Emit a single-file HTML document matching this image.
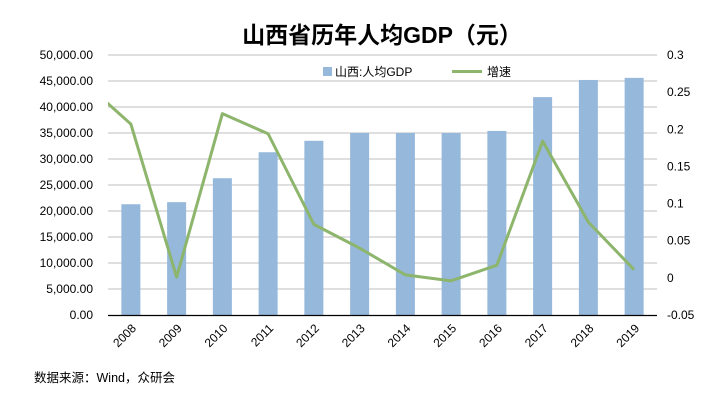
<!DOCTYPE html>
<html><head><meta charset="utf-8"><style>
body{margin:0;background:#fff;}
svg text{font-family:"Liberation Sans","Noto Sans CJK SC",sans-serif;}
</style></head><body>
<svg width="724" height="400" viewBox="0 0 724 400">
<text x="382" y="43" text-anchor="middle" font-size="23" font-weight="bold" fill="#000">山西省历年人均GDP（元）</text>
<g id="grid"></g><g id="bars"></g><g id="line"></g><g id="axes"></g>
<g>
<rect x="323" y="67" width="9" height="9" fill="#95b8db"/>
<text x="335" y="76" font-size="12" fill="#000">山西:人均GDP</text>
<line x1="452" y1="71.5" x2="482" y2="71.5" stroke="#8db56c" stroke-width="3"/>
<text x="487" y="76" font-size="12" fill="#000">增速</text>
</g>
<text x="34" y="382" font-size="12.5" fill="#000">数据来源：Wind，众研会</text>
<defs><clipPath id="pc"><rect x="108" y="40" width="549" height="290"/></clipPath></defs>
</svg>
<script>
const categories=["2008","2009","2010","2011","2012","2013","2014","2015","2016","2017","2018","2019"];
const gdpValues=[21300,21700,26300,31300,33500,35000,35000,35000,35400,41900,45200,45600];
const growthValues=[0.207,0.001,0.221,0.194,0.072,0.040,0.004,-0.004,0.017,0.184,0.075,0.011];
const prevGrowth=0.262;
const leftTicks=[0,5000,10000,15000,20000,25000,30000,35000,40000,45000,50000];
const rightTicks=[-0.05,0,0.05,0.1,0.15,0.2,0.25,0.3];
const NS="http://www.w3.org/2000/svg";
const L=108,R=657,T=55,B=315;
const step=(R-L)/categories.length;
const xC=i=>L+step*(i+0.5);
const yL=v=>B-(v/50000)*(B-T);
const yR=v=>B-((v+0.05)/0.35)*(B-T);
function mk(tag,attrs,parent){const e=document.createElementNS(NS,tag);for(const k in attrs)e.setAttribute(k,attrs[k]);document.getElementById(parent).appendChild(e);return e;}
leftTicks.forEach(v=>{
  if(v>0){const g=mk('line',{x1:L,x2:R,y1:yL(v),y2:yL(v),stroke:'#bfbfbf','stroke-width':1},'grid');
  
  }
  const t=mk('text',{x:93,y:yL(v)+4,'text-anchor':'end','font-size':12,fill:'#000'},'axes');
  t.textContent=v.toLocaleString('en-US',{minimumFractionDigits:2});
  
  
});
rightTicks.forEach(v=>{
  const t=mk('text',{x:667,y:yR(v)+4,'font-size':12,fill:'#000'},'axes');
  t.textContent=String(Math.round(v*100)/100);
  
  
});
const ax=mk('line',{x1:L,x2:R,y1:B+0.5,y2:B+0.5,stroke:'#000','stroke-width':1.3},'axes');


categories.forEach((c,i)=>{
  const b=mk('rect',{x:xC(i)-9.5,y:yL(gdpValues[i]),width:19,height:B-yL(gdpValues[i]),fill:'#95b8db'},'bars');
  
  
  const x=xC(i)+6,y=B+14;
  const t=mk('text',{x:x,y:y,'text-anchor':'end','font-size':12,fill:'#000',transform:`rotate(-45 ${x} ${y})`},'axes');
  t.textContent=c;
  
  
});
let pts=[[xC(-1),yR(prevGrowth)]].concat(growthValues.map((v,i)=>[xC(i),yR(v)]));
const pl=mk('polyline',{points:pts.map(p=>p.join(',')).join(' '),fill:'none',stroke:'#8db56c','stroke-width':3,'stroke-linejoin':'round','clip-path':'url(#pc)'},'line');


</script>
</body></html>
